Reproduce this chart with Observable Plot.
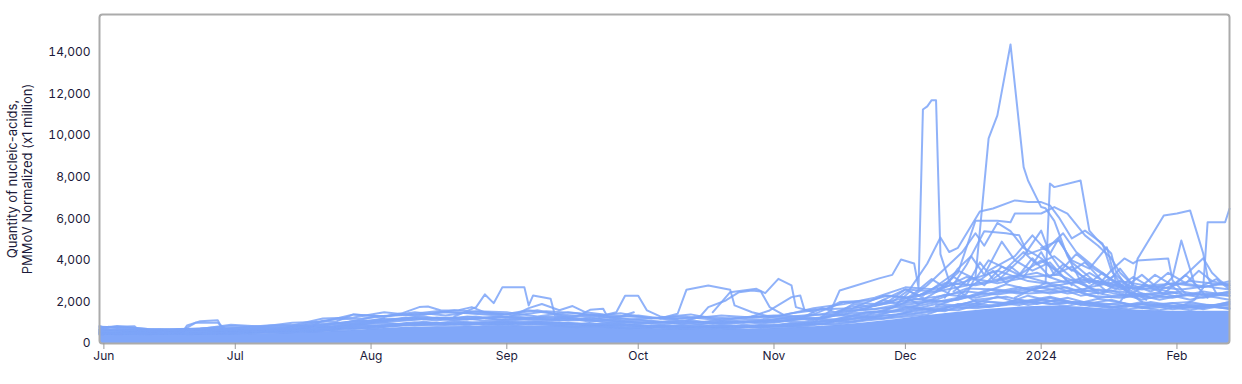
<!DOCTYPE html>
<html><head><meta charset="utf-8">
<script src="https://cdn.jsdelivr.net/npm/d3@7"></script>
<script src="https://cdn.jsdelivr.net/npm/@observablehq/plot@0.6"></script>
<style>
html,body{margin:0;padding:0;background:#fff;}
#chart svg{display:block;}
g[aria-label="x-axis tick"]{stroke:#9a9a9a;}
</style></head><body><div id="chart"></div>
<script>
// ---- tick labels / axis text ----
const yLabel = "Quantity of nucleic-acids,\nPMMoV Normalized (x1 million)";
const yTicks = [0, 2000, 4000, 6000, 8000, 10000, 12000, 14000];
const xTicks = ["2023-06-01","2023-07-01","2023-08-01","2023-09-01","2023-10-01","2023-11-01","2023-12-01","2024-01-01","2024-02-01"];
const xTickLabels = ["Jun","Jul","Aug","Sep","Oct","Nov","Dec","2024","Feb"];

// ---- sampling calendars used by the bulk of sites (Wed / Sun / Fri) ----
const datesWed = ["2023-05-31","2023-06-07","2023-06-14","2023-06-21","2023-06-28","2023-07-05","2023-07-12","2023-07-19","2023-07-26","2023-08-02",
"2023-08-09","2023-08-16","2023-08-23","2023-08-30","2023-09-06","2023-09-13","2023-09-20","2023-09-27","2023-10-04","2023-10-11",
"2023-10-18","2023-10-25","2023-11-01","2023-11-08","2023-11-15","2023-11-22","2023-11-29","2023-12-06","2023-12-13","2023-12-20",
"2023-12-27","2024-01-03","2024-01-10","2024-01-17","2024-01-24","2024-01-31","2024-02-07","2024-02-13"];
const datesSun = ["2023-05-31","2023-06-04","2023-06-11","2023-06-18","2023-06-25","2023-07-02","2023-07-09","2023-07-16","2023-07-23","2023-07-30",
"2023-08-06","2023-08-13","2023-08-20","2023-08-27","2023-09-03","2023-09-10","2023-09-17","2023-09-24","2023-10-01","2023-10-08",
"2023-10-15","2023-10-22","2023-10-29","2023-11-05","2023-11-12","2023-11-19","2023-11-26","2023-12-03","2023-12-10","2023-12-17",
"2023-12-24","2023-12-31","2024-01-07","2024-01-14","2024-01-21","2024-01-28","2024-02-04","2024-02-13"];
const datesFri = ["2023-05-31","2023-06-02","2023-06-09","2023-06-16","2023-06-23","2023-06-30","2023-07-07","2023-07-14","2023-07-21","2023-07-28",
"2023-08-04","2023-08-11","2023-08-18","2023-08-25","2023-09-01","2023-09-08","2023-09-15","2023-09-22","2023-09-29","2023-10-06",
"2023-10-13","2023-10-20","2023-10-27","2023-11-03","2023-11-10","2023-11-17","2023-11-24","2023-12-01","2023-12-08","2023-12-15",
"2023-12-22","2023-12-29","2024-01-05","2024-01-12","2024-01-19","2024-01-26","2024-02-02","2024-02-13"];

// level below which the hundreds of low sites overlap completely (Wed calendar)
const coreBand = [420,450,440,430,440,460,480,540,600,700, 780,800,820,850,850,850,800,760,720,680,
680,700,720,780,860,1000,1150,1350,1500,1650, 1750,1800,1750,1650,1600,1550,1550,1550];

// sites sampled weekly on Wednesdays
const sitesWed = [
[450,520,470,540,460,500,580,560,700,760,900,1000,880,1050,920,1000,850,960,760,880,740,820,760,900,960,1150,1300,1500,1700,1800,2100,1900,2000,1750,1900,1650,1800,1700],
[520,460,560,470,520,580,500,640,620,840,860,940,1040,900,1000,880,980,800,880,720,860,780,880,820,1050,1250,1400,1650,1600,2000,1850,2200,1850,2100,1700,1950,1650,1900],
[480,560,500,450,550,490,600,580,760,720,980,870,960,1000,1070,940,820,900,820,780,720,900,800,960,900,1100,1250,1400,1900,1750,2000,2250,1900,1700,2000,1750,1700,2000],
[600,660,580,650,600,700,640,780,820,1000,1100,1250,1150,1300,1200,1100,1250,1050,1000,1100,950,1050,1000,1200,1150,1500,1600,1900,2200,2400,2700,2400,2600,2300,2400,2200,2500,2300],
[650,580,680,600,640,620,720,720,900,1050,1250,1100,1300,1150,1250,1300,1050,1200,1100,920,1100,1000,1100,1050,1350,1350,1800,2000,2100,2600,2400,2800,2300,2550,2100,2450,2200,2400],
[800,760,650,700,680,800,760,950,1000,1300,1400,1550,1450,1350,1600,1400,1300,1450,1200,1300,1150,1250,1350,1300,1500,1800,2100,2400,2700,3000,3300,2900,3100,2800,2600,2900,2700,3000]
];
// sites sampled weekly on Sundays
const sitesSun = [
[540,480,450,520,480,560,540,680,650,880,820,1050,900,960,880,1060,920,840,900,700,800,720,900,780,1000,1200,1450,1700,1550,2100,2250,1900,2200,1800,1650,1900,2000,1650],
[430,500,540,490,560,520,620,600,700,800,940,900,1070,880,960,1000,960,780,760,860,760,860,740,1000,920,1300,1200,1600,1800,1700,1850,2100,2000,1950,1800,1600,1900,1800],
[500,450,500,560,470,600,520,560,780,760,870,1000,940,1050,1000,900,780,1000,840,760,900,700,850,880,1100,1050,1350,1450,1700,2050,1950,2000,1800,2150,1900,1850,1600,2000],
[560,700,620,580,700,660,690,840,780,950,1150,1300,1100,1250,1300,1150,1150,1250,950,1050,1000,1120,950,1150,1250,1450,1550,2150,2000,2300,2850,2500,2700,2200,2300,2450,2100,2500],
[670,620,560,690,620,740,650,760,960,1100,1100,1200,1250,1100,1150,1250,1200,1000,1120,1000,930,1050,1100,1250,1200,1600,1700,1800,2350,2200,2500,2750,2400,2600,2450,2100,2400,2300],
[720,840,700,660,750,760,880,900,1150,1200,1350,1400,1600,1500,1350,1550,1450,1250,1350,1150,1300,1200,1150,1450,1650,1700,2300,2200,2900,2800,3100,3400,2900,3000,2700,2600,3000,2800]
];
// sites sampled weekly on Fridays
const sitesFri = [
[460,540,460,500,540,470,580,660,640,900,1000,860,980,920,1040,960,1000,860,720,900,800,840,780,920,980,1250,1500,1550,1900,1800,2250,1850,2100,1800,1950,1700,1850,1700],
[550,490,520,470,500,540,600,620,720,840,880,1020,900,1000,940,1050,900,940,860,820,700,880,820,850,1050,1150,1300,1750,1650,1950,1800,2300,1950,2000,1700,2000,1750,1900],
[600,570,650,600,680,610,750,820,880,980,1200,1150,1200,1300,1100,1200,1100,1150,1050,950,1050,980,1050,1100,1380,1400,1840,2050,2250,2500,2350,2600,2800,2300,2200,2350,2500,2100],
[640,690,600,640,580,700,700,700,850,1080,1080,1280,1150,1200,1280,1100,1250,1100,980,1050,1120,930,1050,1200,1150,1550,1650,1950,2100,2650,2600,2400,2500,2650,2350,2200,2300,2450],
[850,700,620,690,720,840,800,1000,1050,1400,1300,1500,1350,1550,1500,1300,1500,1350,1150,1250,1400,1120,1300,1250,1400,2000,1900,2600,2500,3200,2900,3200,3300,2700,3000,2750,2600,2900],
[680,800,680,640,700,900,820,870,1200,1250,1500,1350,1500,1450,1400,1600,1300,1400,1300,1200,1200,1350,1250,1350,1700,1900,2200,2700,2600,3000,3500,3000,2800,3100,2600,2800,2900,2600]
];

// sites that stand out, each with its own sampling dates
const notableSeries = [
[["2023-11-08",900],["2023-11-10",1000],["2023-11-14",1600],["2023-11-16",2550],["2023-11-19",2740],["2023-11-25",3130],["2023-11-28",3300],["2023-11-30",4040],["2023-12-03",3850],["2023-12-04",2690],["2023-12-05",11250],["2023-12-06",11400],["2023-12-07",11700],["2023-12-08",11700],["2023-12-09",4300],["2023-12-11",3000],["2023-12-14",2400],["2023-12-18",1900]],
[["2023-11-24",1800],["2023-11-28",2000],["2023-12-02",2600],["2023-12-06",3850],["2023-12-09",5100],["2023-12-11",4400],["2023-12-13",4600],["2023-12-18",6350],["2023-12-21",6490],["2023-12-26",6880],["2023-12-29",6800],["2024-01-01",6800],["2024-01-03",6640],["2024-01-05",6080],["2024-01-08",5050],["2024-01-11",5430],["2024-01-15",4810],["2024-01-17",3510],["2024-01-20",2600],["2024-01-24",2000]],
[["2023-12-08",1800],["2023-12-12",2100],["2023-12-15",2400],["2023-12-17",3200],["2023-12-18",5400],["2023-12-20",9860],["2023-12-22",10970],["2023-12-25",14380],["2023-12-28",8480],["2023-12-29",7840],["2024-01-01",6560],["2024-01-02",6500],["2024-01-04",5900],["2024-01-07",4200],["2024-01-10",3000],["2024-01-14",2400]],
[["2023-12-26",2200],["2023-12-30",2600],["2024-01-02",2900],["2024-01-03",7690],["2024-01-04",7520],["2024-01-10",7840],["2024-01-12",5430],["2024-01-14",4950],["2024-01-17",4330],["2024-01-18",3500],["2024-01-21",2600],["2024-01-25",2100]],
[["2023-12-08",2500],["2023-12-13",3400],["2023-12-17",5900],["2023-12-22",5900],["2023-12-25",5830],["2023-12-26",6250],["2024-01-01",6250],["2024-01-04",6560],["2024-01-07",6240],["2024-01-11",5200],["2024-01-14",4700],["2024-01-17",4100],["2024-01-19",3400],["2024-01-22",2800]],
[["2023-12-10",2200],["2023-12-15",3800],["2023-12-19",5400],["2023-12-24",5300],["2023-12-27",5200],["2023-12-29",4300],["2024-01-02",4600],["2024-01-05",3700],["2024-01-09",3000],["2024-01-14",2500]],
[["2024-01-19",2000],["2024-01-22",2870],["2024-01-23",4070],["2024-01-29",6160],["2024-02-01",6250],["2024-02-04",6400],["2024-02-07",4330],["2024-02-08",3190],["2024-02-10",2400]],
[["2024-02-02",1800],["2024-02-05",2100],["2024-02-07",2690],["2024-02-08",5830],["2024-02-12",5830],["2024-02-13",6480]],
[["2024-01-28",2500],["2024-01-31",3190],["2024-02-02",4950],["2024-02-05",2880],["2024-02-08",2200]],
[["2024-01-14",2800],["2024-01-17",3510],["2024-01-20",4090],["2024-01-22",3850],["2024-01-23",3990],["2024-01-30",4090],["2024-01-31",3030],["2024-02-03",2400]],
[["2024-01-01",4600],["2024-01-05",4950],["2024-01-08",4000],["2024-01-12",3600],["2024-01-16",4630],["2024-01-18",3000],["2024-01-22",2300]],
[["2023-12-20",3500],["2023-12-26",4200],["2023-12-30",5200],["2024-01-02",4500],["2024-01-06",5300],["2024-01-09",4400],["2024-01-13",3700],["2024-01-17",3100],["2024-01-21",2600]],
[["2023-12-22",3000],["2023-12-28",4200],["2024-01-01",5430],["2024-01-03",4300],["2024-01-05",5050],["2024-01-08",3900],["2024-01-12",3200],["2024-01-16",2500]],
[["2023-12-01",2000],["2023-12-06",2800],["2023-12-11",3800],["2023-12-14",4400],["2023-12-17",5300],["2023-12-19",4700],["2023-12-22",5800],["2023-12-25",5400],["2023-12-28",4600],["2024-01-01",4100],["2024-01-04",3600],["2024-01-08",2800]],
[["2023-12-05",2300],["2023-12-09",2900],["2023-12-13",3500],["2023-12-17",3100],["2023-12-20",4000],["2023-12-24",3600],["2023-12-28",4400],["2023-12-31",3800],["2024-01-04",4200],["2024-01-08",3500],["2024-01-11",3900],["2024-01-15",3000],["2024-01-19",2700],["2024-01-23",2300]],
[["2023-12-12",2500],["2023-12-16",3200],["2023-12-19",2800],["2023-12-23",3700],["2023-12-27",3300],["2024-01-01",4000],["2024-01-05",3400],["2024-01-09",4300],["2024-01-13",3600],["2024-01-16",3200],["2024-01-20",2700],["2024-01-24",3300],["2024-01-28",2600],["2024-02-01",2400]],
[["2024-01-10",2500],["2024-01-14",3000],["2024-01-18",2600],["2024-01-22",3200],["2024-01-26",2700],["2024-01-30",3400],["2024-02-03",2900],["2024-02-06",3500],["2024-02-09",3000],["2024-02-13",2800]],
[["2024-01-20",2200],["2024-01-25",2800],["2024-01-29",2400],["2024-02-02",3100],["2024-02-05",3700],["2024-02-07",4100],["2024-02-09",3400],["2024-02-11",3000],["2024-02-13",2700]],
[["2023-05-31",780],["2023-06-04",800],["2023-06-08",830],["2023-06-09",620],["2023-06-14",560],["2023-06-18",500]],
[["2023-06-15",500],["2023-06-19",560],["2023-06-20",870],["2023-06-23",1070],["2023-06-27",1120],["2023-06-28",720],["2023-07-03",600],["2023-07-08",560]],
[["2023-06-18",520],["2023-06-20",760],["2023-06-22",1000],["2023-06-27",1000],["2023-06-29",650],["2023-07-04",600]],
[["2023-07-18",800],["2023-07-21",1100],["2023-07-24",1050],["2023-07-28",1400],["2023-07-31",1350],["2023-08-04",1300],["2023-08-08",1450],["2023-08-12",1750],["2023-08-14",1780],["2023-08-17",1590],["2023-08-21",1600],["2023-08-24",1750],["2023-08-27",1500],["2023-08-31",1400]],
[["2023-08-20",1300],["2023-08-25",1750],["2023-08-27",2360],["2023-08-29",1940],["2023-08-31",2710],["2023-09-05",2710],["2023-09-06",1830],["2023-09-07",2310],["2023-09-11",2150],["2023-09-12",1350],["2023-09-16",1200]],
[["2023-09-12",1200],["2023-09-17",1300],["2023-09-20",1620],["2023-09-23",1670],["2023-09-24",1270],["2023-09-27",1300],["2023-09-30",1500]],
[["2023-09-22",1300],["2023-09-26",1500],["2023-09-28",2300],["2023-10-01",2300],["2023-10-03",1590],["2023-10-06",1300],["2023-10-10",1150]],
[["2023-10-06",1200],["2023-10-10",1430],["2023-10-12",2580],["2023-10-17",2790],["2023-10-22",2580],["2023-10-23",1830],["2023-10-27",1500],["2023-10-31",1300]],
[["2023-10-12",1100],["2023-10-15",1270],["2023-10-17",1750],["2023-10-21",2070],["2023-10-24",2470],["2023-10-27",2550],["2023-10-29",2500],["2023-10-31",1750],["2023-11-03",1400]],
[["2023-10-18",1500],["2023-10-22",2470],["2023-10-28",2630],["2023-10-30",2420],["2023-11-02",3110],["2023-11-05",2790],["2023-11-06",1750],["2023-11-10",1500]],
[["2023-10-27",1300],["2023-10-31",1590],["2023-11-05",2230],["2023-11-07",2310],["2023-11-08",1590],["2023-11-13",1670],["2023-11-16",1990],["2023-11-23",2070],["2023-11-27",2310],["2023-12-01",2200],["2023-12-04",1900]],
[["2023-11-29",1900],["2023-12-03",2400],["2023-12-07",3100],["2023-12-10",2700],["2023-12-13",3600],["2023-12-16",4200],["2023-12-19",3300],["2023-12-23",4900],["2023-12-26",4000],["2023-12-30",3500],["2024-01-03",3900],["2024-01-07",3000],["2024-01-11",2500]],
[["2023-12-05",2100],["2023-12-09",2600],["2023-12-12",3200],["2023-12-15",2800],["2023-12-18",3900],["2023-12-21",3100],["2023-12-25",3700],["2023-12-28",3200],["2024-01-01",4400],["2024-01-04",3300],["2024-01-08",3700],["2024-01-12",2900],["2024-01-15",3400],["2024-01-19",2700],["2024-01-23",2200]],
[["2023-12-13",2300],["2023-12-17",2900],["2023-12-21",3500],["2023-12-24",2900],["2023-12-27",3300],["2023-12-30",4100],["2024-01-03",3200],["2024-01-06",3800],["2024-01-10",3300],["2024-01-14",2800],["2024-01-18",3300],["2024-01-22",2600],["2024-01-26",2200]],
[["2024-01-15",2400],["2024-01-19",3000],["2024-01-23",2600],["2024-01-27",3300],["2024-01-31",2800],["2024-02-03",3300],["2024-02-06",2700],["2024-02-10",3100],["2024-02-13",2600]],
[["2024-01-08",2900],["2024-01-12",3400],["2024-01-16",2900],["2024-01-19",3600],["2024-01-22",2800],["2024-01-26",2500],["2024-01-30",2900],["2024-02-02",2400]],
[["2023-11-08",1300],["2023-11-12",1700],["2023-11-15",1500],["2023-11-19",1800],["2023-11-22",1650],["2023-11-26",2100],["2023-11-29",1900],["2023-12-02",2500],["2023-12-05",2200]],
[["2023-11-15",1400],["2023-11-19",1900],["2023-11-23",1750],["2023-11-27",2000],["2023-12-01",2600],["2023-12-04",2300],["2023-12-08",2700],["2023-12-11",2400]],
[["2023-09-02",1300],["2023-09-06",1700],["2023-09-09",1900],["2023-09-13",1600],["2023-09-16",1800],["2023-09-19",1500],["2023-09-23",1400]],
[["2023-07-10",600],["2023-07-14",700],["2023-07-17",850],["2023-07-20",900],["2023-07-23",800],["2023-07-27",950],["2023-07-31",1050],["2023-08-04",1200]]
];

// ---- build tables ----
const parse = s => new Date(s + "T00:00:00Z");
const rows = [];
[[datesWed, sitesWed, "w"], [datesSun, sitesSun, "s"], [datesFri, sitesFri, "f"]].forEach(([dates, sites, tag]) =>
  sites.forEach((vals, i) => vals.forEach((v, j) => rows.push({site: tag + i, date: parse(dates[j]), value: v}))));
notableSeries.forEach((pts, k) => pts.forEach(([d, v]) => rows.push({site: "n" + k, date: parse(d), value: v})));
const core = datesWed.map((d, j) => ({date: parse(d), value: coreBand[j]}));
const labelByTime = new Map(xTicks.map((d, i) => [+parse(d), xTickLabels[i]]));

const lineColor = "#7da5f8";
const textColor = "#1c1a3a";

const chart = Plot.plot({
  width: 1242, height: 384,
  marginTop: 14, marginRight: 13, marginBottom: 41, marginLeft: 99,
  style: {fontFamily: "Inter, 'Noto Sans', sans-serif", fontSize: "12px", color: textColor, background: "#fff"},
  x: {type: "utc", domain: [parse("2023-05-31"), parse("2024-02-13")]},
  y: {domain: [0, 15820]},
  marks: [
    Plot.areaY(core, {x: "date", y: "value", fill: "#80a7f9"}),
    Plot.line(rows, {x: "date", y: "value", z: "site", stroke: lineColor, strokeWidth: 2, strokeOpacity: 0.85}),
    Plot.frame({stroke: "#ababab", strokeWidth: 2, rx: 3}),
    Plot.axisX({ticks: xTicks.map(parse), tickFormat: d => labelByTime.get(+d), tickSize: 6, tickPadding: 2, label: null, color: textColor}),
    Plot.axisY({ticks: yTicks, tickSize: 0, tickPadding: 9, label: null, tickFormat: d3.format(","), color: textColor}),
    Plot.text([yLabel], {text: d => d, frameAnchor: "left", dx: -80, rotate: -90, textAnchor: "middle", lineAnchor: "middle", lineHeight: 1.2, fontSize: 13, fill: textColor})
  ]
});
document.getElementById("chart").append(chart);
</script>
</body></html>
